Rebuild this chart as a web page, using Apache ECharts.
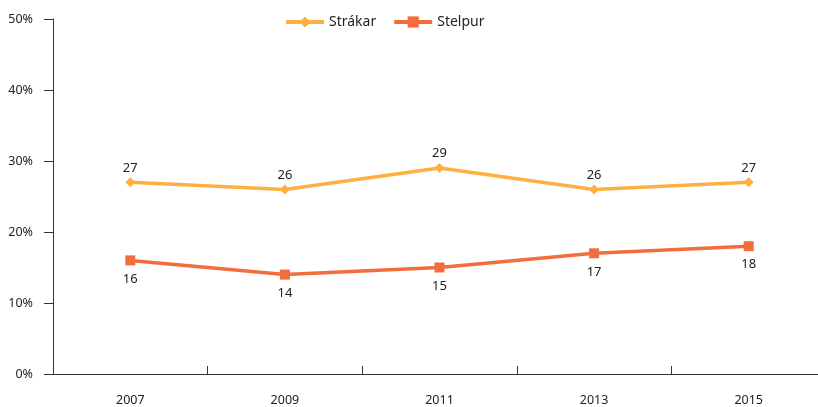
<!DOCTYPE html>
<html>
<head>
<meta charset="utf-8">
<script src="https://cdn.jsdelivr.net/npm/echarts@6/dist/echarts.min.js"></script>
<style>
  html, body { margin: 0; padding: 0; background: #fff; }
  #chart { width: 818px; height: 407px; }
</style>
</head>
<body>
<div id="chart"></div>
<script>
// Survey years and shares (%) per group
const years = ['2007', '2009', '2011', '2013', '2015'];
const strakar = [27, 26, 29, 26, 27];
const stelpur = [16, 14, 15, 17, 18];

const FONT = '"Noto Sans", sans-serif';
const chart = echarts.init(document.getElementById('chart'));

chart.setOption({
  animation: false,
  textStyle: { fontFamily: FONT },
  legend: {
    top: 10,
    left: 279,
    itemWidth: 38,
    itemHeight: 14,
    itemGap: 16,
    lineStyle: { width: 4 },
    textStyle: { fontFamily: FONT, fontSize: 14, color: '#222' },
    data: ['Strákar', 'Stelpur']
  },
  // the plot area runs slightly past the right edge of the canvas
  grid: { left: 53, width: 773, top: 19, bottom: 33, outerBoundsMode: 'none', containLabel: false },
  xAxis: {
    type: 'category',
    data: years,
    boundaryGap: true,
    axisLine: { lineStyle: { color: '#333', width: 1 } },
    axisTick: { show: true, inside: true, length: 8, lineStyle: { color: '#333' } },
    axisLabel: { color: '#222', fontSize: 12.5, margin: 20, fontFamily: FONT }
  },
  yAxis: {
    type: 'value',
    min: 0,
    max: 50,
    interval: 10,
    splitLine: { show: false },
    axisLine: { show: true, lineStyle: { color: '#333', width: 1 } },
    axisTick: { show: true, length: 9, lineStyle: { color: '#333' } },
    axisLabel: {
      formatter: '{value}%',
      color: '#222',
      fontSize: 12.5,
      margin: 20,
      fontFamily: FONT,
      padding: [0, 0, 6, 0]
    }
  },
  series: [
    {
      name: 'Strákar',
      type: 'line',
      data: strakar,
      symbol: 'diamond',
      symbolSize: 10,
      lineStyle: { width: 3.5, color: '#FFAF3F' },
      itemStyle: { color: '#FFAF3F' },
      label: { show: true, position: 'top', distance: 3, color: '#222', fontSize: 13, fontFamily: FONT }
    },
    {
      name: 'Stelpur',
      type: 'line',
      data: stelpur,
      symbol: 'rect',
      symbolSize: 10,
      lineStyle: { width: 3.5, color: '#F26C3C' },
      itemStyle: { color: '#F26C3C' },
      label: { show: true, position: 'bottom', distance: 7, color: '#222', fontSize: 13, fontFamily: FONT }
    }
  ]
});
</script>
</body>
</html>
